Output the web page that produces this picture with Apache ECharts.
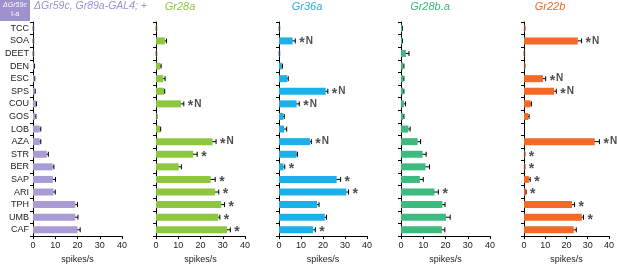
<!DOCTYPE html>
<html><head><meta charset="utf-8">
<script src="https://cdn.jsdelivr.net/npm/echarts@6/dist/echarts.min.js"></script>
<style>html,body{margin:0;padding:0;background:#fff}#c{width:617px;height:269px}</style>
</head><body><div id="c"></div>
<script>
var categories = ['TCC','SOA','DEET','DEN','ESC','SPS','COU','GOS','LOB','AZA','STR','BER','SAP','ARI','TPH','UMB','CAF'];
var xTicks = [0,10,20,30,40];

var gr59Vals = [0.2,0.2,0.2,0.5,0.6,0.8,1.3,1.0,3.0,3.0,6.2,8.8,8.9,9.2,19.0,19.0,20.0];
var gr59Err  = [0.1,0.1,0.1,0.2,0.2,0.2,0.3,0.3,0.5,0.5,0.7,0.6,1.2,0.8,1.0,1.2,1.2];
var gr59Sig  = ['','','','','','','','','','','','','','','','',''];

var gr28aVals = [0.2,4.0,0.2,1.8,3.3,3.6,11.2,0.3,1.8,25.4,16.7,10.2,24.6,26.6,29.3,28.0,31.9];
var gr28aErr  = [0.1,0.7,0.1,0.5,0.8,0.3,1.3,0.1,0.3,1.6,1.8,1.2,2.0,1.6,1.5,0.7,1.5];
var gr28aSig  = ['','','','','','','*N','','','*N','*','','*','*','*','*','*'];

var gr36aVals = [0.2,6.2,0.2,1.2,3.8,21.2,8.0,2.0,2.3,14.1,8.0,2.0,26.2,30.6,17.3,20.8,15.5];
var gr36aErr  = [0.1,1.2,0.1,0.4,0.4,1.0,1.2,0.4,1.2,0.6,0.4,0.6,1.8,1.0,0.9,0.8,1.0];
var gr36aSig  = ['','*N','','','','*N','*N','','','*N','','*','*','*','','','*'];

var gr28bVals = [0.5,0.5,2.2,1.0,1.0,1.0,1.3,1.0,3.3,7.5,9.7,11.0,8.5,15.0,18.6,20.2,18.4];
var gr28bErr  = [0.1,0.1,1.4,0.3,0.3,0.3,0.7,0.3,0.8,1.3,1.6,1.8,1.5,1.8,1.2,1.9,1.3];
var gr28bSig  = ['','','','','','','','','','','','','','*','','',''];

var gr22bVals = [0.3,25.3,0.2,0.3,8.9,14.2,3.1,2.0,0,33.3,0.3,0.3,2.3,0.8,22.6,27.2,23.4];
var gr22bErr  = [0.1,1.8,0.1,0.1,1.3,1.0,0.4,0.4,0,2.2,0.1,0.1,0.6,0.2,1.2,0.8,1.2];
var gr22bSig  = ['','*N','','','*N','*N','','','','*N','*','*','*','*','*','*',''];

var panels = [
  {title:'ΔGr59c, Gr89a-GAL4; +', vals:gr59Vals, err:gr59Err, sig:gr59Sig, color:'#a89bd6', tcolor:'#9d90cf', left:33, width:89, tx:0},
  {title:'Gr28a', vals:gr28aVals, err:gr28aErr, sig:gr28aSig, color:'#8dc63f', tcolor:'#8dc63f', left:156, width:89, tx:180},
  {title:'Gr36a', vals:gr36aVals, err:gr36aErr, sig:gr36aSig, color:'#1cb0ea', tcolor:'#29abe2', left:279, width:88, tx:307},
  {title:'Gr28b.a', vals:gr28bVals, err:gr28bErr, sig:gr28bSig, color:'#3dba7e', tcolor:'#3cb878', left:401, width:89, tx:430},
  {title:'Gr22b', vals:gr22bVals, err:gr22bErr, sig:gr22bSig, color:'#f26a25', tcolor:'#f26522', left:524, width:87, tx:550}
];

var FONT = 'Arial, "Liberation Sans", sans-serif';
var grids=[], xAxes=[], yAxes=[], series=[], graphics=[];

panels.forEach(function(p, k){
  grids.push({left:p.left, width:p.width, top:22, height:225});
  xAxes.push({type:'value', gridIndex:k, min:xTicks[0], max:xTicks[xTicks.length-1], interval:10,
    name:'spikes/s', nameLocation:'middle', nameGap:16,
    nameTextStyle:{fontSize:9, color:'#222', fontFamily:FONT},
    axisLine:{show:true, lineStyle:{color:'#000', width:1}},
    axisTick:{show:true, length:3, lineStyle:{color:'#000'}},
    axisLabel:{fontSize:9, color:'#222', margin:5, fontFamily:FONT},
    splitLine:{show:false}});
  yAxes.push({type:'category', gridIndex:k, data:categories, inverse:true,
    axisLine:{show:true, lineStyle:{color:'#000', width:1}},
    axisTick:{show:true, length:3, lineStyle:{color:'#000'}},
    axisLabel:{show:k===0, fontSize:9, color:'#222', margin:4, fontFamily:FONT}});
  series.push({type:'bar', xAxisIndex:k, yAxisIndex:k, data:p.vals, barWidth:7,
    itemStyle:{color:p.color}, silent:true, animation:false});
  series.push({type:'custom', xAxisIndex:k, yAxisIndex:k, animation:false, silent:true,
    data:p.vals.map(function(v,i){return [v, i, p.err[i]];}),
    encode:{x:0, y:1},
    renderItem:function(params, api){
      var v = api.value(0), i = api.value(1), e = api.value(2);
      if (e <= 0) return null;
      var a = api.coord([Math.max(0, v - e), i]);
      var b = api.coord([v + e, i]);
      var h = 2.5;
      var st = {stroke:'#000', lineWidth:1};
      return {type:'group', children:[
        {type:'line', shape:{x1:a[0], y1:a[1], x2:b[0], y2:b[1]}, style:st},
        {type:'line', shape:{x1:a[0], y1:a[1]-h, x2:a[0], y2:a[1]+h}, style:st},
        {type:'line', shape:{x1:b[0], y1:b[1]-h, x2:b[0], y2:b[1]+h}, style:st}
      ]};
    }});
  var sigData = [];
  p.vals.forEach(function(v,i){ if (p.sig[i]) sigData.push([v + p.err[i], i, p.sig[i]]); });
  series.push({type:'scatter', xAxisIndex:k, yAxisIndex:k, symbolSize:0, silent:true, animation:false,
    data:sigData,
    label:{show:true, position:'right', distance:4,
      formatter:function(d){ var t = d.value[2]; return '{s|*}' + (t.length > 1 ? '{n|' + t.slice(1) + '}' : ''); },
      rich:{
        s:{fontSize:14, fontWeight:'bold', color:'#222', fontFamily:FONT, padding:[5,1,0,0]},
        n:{fontSize:10, fontWeight:'bold', color:'#222', fontFamily:FONT}
      }}});
  if (k === 0) {
    graphics.push({type:'text', left:34, top:1, style:{text:p.title, fill:p.tcolor, fontSize:10.5, fontStyle:'italic', fontFamily:FONT}});
  } else {
    graphics.push({type:'text', x:p.tx, y:1, style:{text:p.title, fill:p.tcolor, fontSize:11, fontStyle:'italic', fontFamily:FONT, textAlign:'center'}});
  }
});

graphics.push({type:'rect', shape:{x:0, y:0, width:30, height:21}, style:{fill:'#9e92cd'}});
graphics.push({type:'text', x:15, y:2, style:{text:'ΔGr59c', fill:'#fff', fontSize:7, fontStyle:'italic', fontFamily:FONT, textAlign:'center'}});
graphics.push({type:'text', x:15, y:11, style:{text:'I-a', fill:'#fff', fontSize:7, fontFamily:FONT, textAlign:'center'}});

var chart = echarts.init(document.getElementById('c'), null, {renderer:'canvas'});
chart.setOption({animation:false, grid:grids, xAxis:xAxes, yAxis:yAxes, series:series, graphic:graphics});
</script></body></html>
